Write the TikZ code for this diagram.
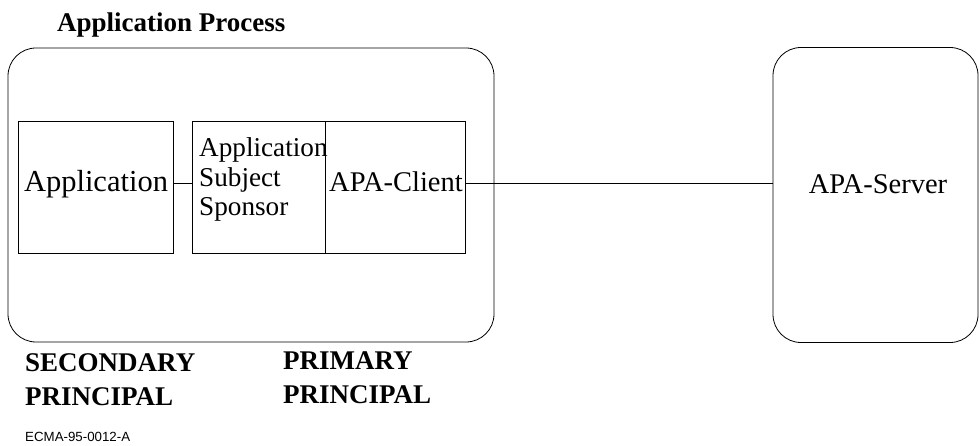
\documentclass[tikz,border=0pt]{standalone}
\usepackage{fontspec}
\setmainfont{Liberation Serif}
\newfontfamily\ecmafont{Liberation Sans}

\begin{document}
\begin{tikzpicture}[x=1pt, y=-1pt,
    box/.style={draw, line width=0.8pt, inner sep=0pt},
    roundbox/.style={box, rounded corners=28pt},
    plainlbl/.style={font=\fontsize{28.5}{29.5}\selectfont, align=left, inner sep=0pt},
    boldlbl/.style={font=\fontsize{27}{34}\selectfont\bfseries, align=left, inner sep=0pt}]
\useasboundingbox (0,0) rectangle (979,446);

% outer process and server
\node [roundbox, minimum width=486pt, minimum height=294pt] (process) at (251,195) {};
\node [roundbox, minimum width=205pt, minimum height=295pt] (server) at (875.5,195) {};
\node [boldlbl, anchor=base west] (title) at (57,32) {Application Process};

% inner boxes
\node [box, minimum width=155pt, minimum height=132pt] (app) at (95.5,187) {};
\node [box, minimum width=133pt, minimum height=132pt] (sponsor) at (258.5,187) {};
\node [box, minimum width=140pt, minimum height=132pt] (client) at (395,187) {};

\node [plainlbl, font=\fontsize{30.5}{32}\selectfont, anchor=base] (applbl) at (96,192) {Application};
\node [plainlbl, font=\fontsize{27.2}{29.5}\selectfont, anchor=base west] (sponsorlbl) at (199,216) {Application\\Subject\\Sponsor};
\node [plainlbl, anchor=base] (clientlbl) at (396,192) {APA-Client};
\node [plainlbl, anchor=base] (serverlbl) at (878,194) {APA-Server};

% connectors
\draw [line width=0.8pt] ([yshift=4pt]app.east) -- ([yshift=4pt]sponsor.west);
\draw [line width=0.8pt] ([yshift=4pt]client.east) -- ([yshift=4pt]server.west |- client.east);

% principals
\node [boldlbl, anchor=base west] (secondary) at (25,405) {SECONDARY\\PRINCIPAL};
\node [boldlbl, anchor=base west] (primary) at (283,403) {PRIMARY\\PRINCIPAL};
\node [font=\ecmafont\fontsize{13.3}{15}\selectfont, anchor=base west, inner sep=0pt] (ecma) at (25,441) {ECMA-95-0012-A};
\end{tikzpicture}
\end{document}
